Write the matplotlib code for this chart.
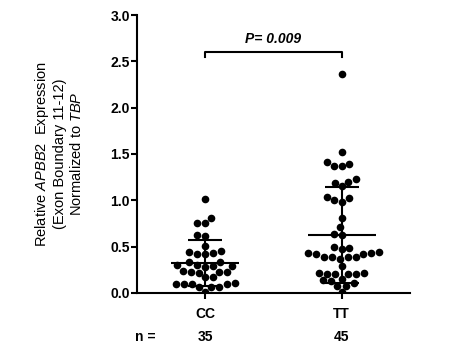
import numpy as np
import pandas as pd
import matplotlib
matplotlib.use("Agg")
import matplotlib.pyplot as plt
import seaborn as sns

# Datos
groups = ["CC", "TT"]
n_labels = ["35", "45"]

cc_values = [1.01, 0.81, 0.76, 0.75, 0.63, 0.62, 0.51,
             0.44, 0.42, 0.42, 0.43, 0.45,
             0.33, 0.33,
             0.29, 0.30, 0.28, 0.29, 0.30,
             0.23, 0.23, 0.22, 0.24, 0.23,
             0.17, 0.17,
             0.10, 0.10, 0.11, 0.10, 0.10,
             0.065, 0.06, 0.07,
             0.01]
tt_values = [2.36, 1.52, 1.41, 1.39, 1.37, 1.37, 1.23, 1.20, 1.19, 1.15,
             1.04, 1.02, 1.00, 0.98, 0.81, 0.71, 0.64, 0.63, 0.50, 0.49, 0.47,
             0.43, 0.44, 0.42, 0.43, 0.42, 0.39, 0.385, 0.37, 0.39, 0.385,
             0.29,
             0.22, 0.21, 0.20, 0.21, 0.20, 0.22, 0.15, 0.14, 0.13,
             0.105, 0.075, 0.08,
             0.01]

means = [0.325, 0.625]
sds = [0.245, 0.52]

p_text = "P= 0.009"
p_level = 2.60

yticks = [0.0, 0.5, 1.0, 1.5, 2.0, 2.5, 3.0]

plt.rcParams["font.family"] = ["Liberation Sans", "DejaVu Sans"]
plt.rcParams["mathtext.fontset"] = "custom"
plt.rcParams["mathtext.it"] = "Liberation Sans:italic"
plt.rcParams["mathtext.rm"] = "Liberation Sans"

df = pd.DataFrame({
    "grupo": ["CC"] * len(cc_values) + ["TT"] * len(tt_values),
    "valor": cc_values + tt_values,
})

fig = plt.figure(figsize=(4.49, 3.58), dpi=100)
ax = fig.add_axes([0.305, 0.1816, 0.608, 0.7765])

sns.swarmplot(data=df, x="grupo", y="valor", order=groups, color="black",
              size=5.5, ax=ax, zorder=2)

# Media y desviacion estandar
for i, (m, s) in enumerate(zip(means, sds)):
    ax.hlines(m, i - 0.25, i + 0.25, color="black", lw=1.5, zorder=3)
    ax.errorbar(i, m, yerr=s, fmt="none", ecolor="black", elinewidth=1.5,
                capsize=12, capthick=1.5, zorder=3)

# Corchete de significancia
ax.plot([0, 0, 1, 1], [p_level - 0.05, p_level, p_level, p_level - 0.05],
        color="black", lw=1.5, clip_on=False)
ax.text(0.5, p_level + 0.07, p_text, ha="center", va="bottom",
        fontsize=10, fontweight="bold", fontstyle="italic")

ax.set_xlim(-0.5, 1.5)
ax.set_ylim(0, 3.0)
ax.set_yticks(yticks)
ax.set_yticklabels([f"{t:.1f}" for t in yticks], fontsize=10, fontweight="bold")
ax.set_xticks([0, 1])
ax.set_xticklabels(groups, fontsize=10, fontweight="bold")
ax.set_xlabel("")
ax.set_ylabel("Relative $\\it{APBB2}$  Expression\n(Exon Boundary 11-12)\nNormalized to $\\it{TBP}$",
              fontsize=10.5, labelpad=19, linespacing=1.2)

ax.spines["top"].set_visible(False)
ax.spines["right"].set_visible(False)
ax.spines["left"].set_linewidth(1.5)
ax.spines["bottom"].set_linewidth(1.5)
ax.tick_params(axis="y", length=4, width=1.5, pad=1)
ax.tick_params(axis="x", length=4, width=1.5, pad=6)

# Fila de n
ax.text(-0.44, -0.158, "n =", transform=ax.get_xaxis_transform(), ha="center",
        va="center", fontsize=10, fontweight="bold")
for i, n in enumerate(n_labels):
    ax.text(i, -0.158, n, transform=ax.get_xaxis_transform(), ha="center",
            va="center", fontsize=10, fontweight="bold")

fig.savefig("out.png", dpi=100)
